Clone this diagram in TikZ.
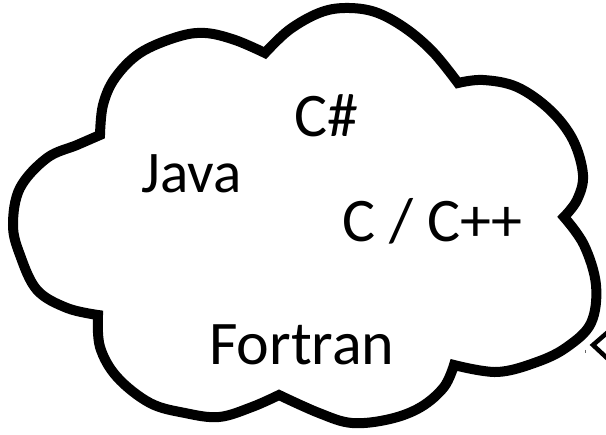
\documentclass[tikz,border=0pt]{standalone}
\usepackage{fontspec}
\setmainfont{Carlito}
\begin{document}
\begin{tikzpicture}[x=1pt,y=-1pt,
  cloudline/.style={line width=10pt, line join=miter, miter limit=6, fill=white, draw=black},
  lang/.style={anchor=base west, inner sep=0pt, font=\fontsize{62}{72}\selectfont}]
\useasboundingbox (0,0) rectangle (606,435);
% cloud outline, one smooth arc per lobe, meeting at sharp cusps
\draw[cloudline]
  plot[smooth, tension=0.6] coordinates {(100,135) (103,105) (115,78) (140,53) (177,37) (205,33) (235,40) (265,53)}
  -- plot[smooth, tension=0.6] coordinates {(265,53) (289,30) (319,13) (345,8) (375,12) (405,28) (433,52) (458,83)}
  -- plot[smooth, tension=0.6] coordinates {(458,83) (483,80) (517,87) (550,110) (573,140) (583,175) (577,200) (564,217)}
  -- plot[smooth, tension=0.6] coordinates {(564,217) (584,245) (596,285) (591,323) (567,347) (537,362) (497,372) (454,365)}
  -- plot[smooth, tension=0.6] coordinates {(454,365) (444,387) (421,407) (390,419) (352,423) (319,413) (279,395)}
  -- plot[smooth, tension=0.6] coordinates {(279,395) (252,407) (219,417) (185,413) (150,403) (117,377) (100,347) (98,315)}
  -- plot[smooth, tension=0.6] coordinates {(98,315) (67,308) (37,290) (20,255) (13,225) (20,188) (47,158) (77,145) (100,135)}
  -- cycle;
% language names
\node[lang] (csharp) at (294,137) {C\#};
\node[lang, font=\fontsize{59}{70}\selectfont] (java) at (141,193) {Java};
\node[lang] (cpp) at (342,242) {C / C++};
\node[lang] (fortran) at (209,365) {Fortran};
% open arrow tip at the right edge
\coordinate (tipa) at (608,332);
\coordinate (tip) at (593,345);
\coordinate (tipb) at (608,359);
\draw[line width=4.5pt, line join=miter] (tipa) -- (tip) -- (tipb);
\coordinate (ticka) at (585,350);
\coordinate (tickb) at (585,353.5);
\draw[line width=1pt, black!60] (ticka) -- (tickb);
\end{tikzpicture}
\end{document}
